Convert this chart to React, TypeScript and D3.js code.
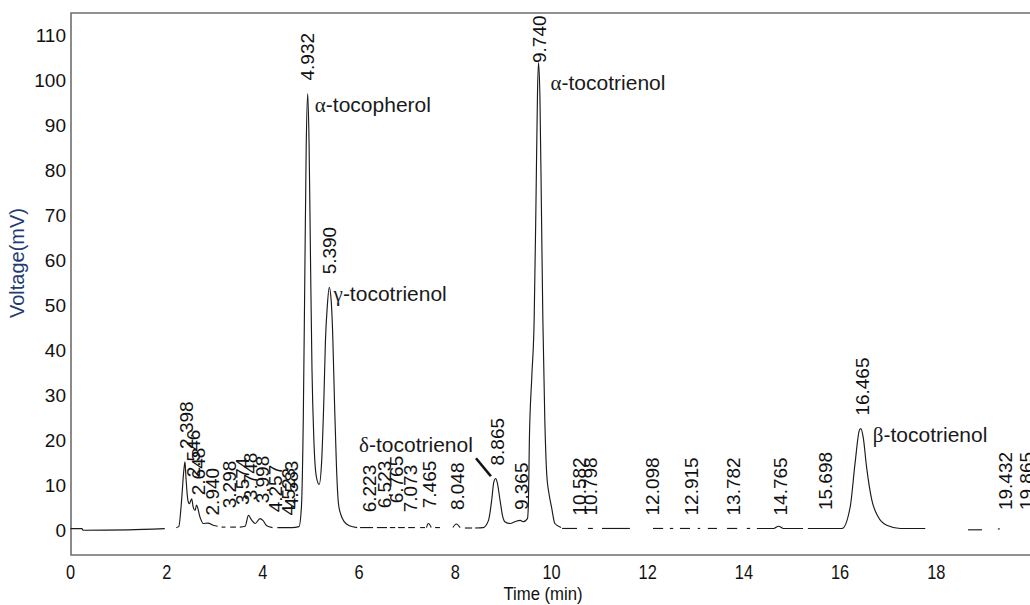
import React from 'react';
import * as d3 from 'd3';

// chromatogram: tocopherol / tocotrienol HPLC run
const xTicks = [0, 2, 4, 6, 8, 10, 12, 14, 16, 18];
const yTicks = [0, 10, 20, 30, 40, 50, 60, 70, 80, 90, 100, 110];

// retention time labels and the level (mV) each label sits on
const peakLabels = [
  '2.398', '2.546', '2.648', '2.940', '3.298', '3.574', '3.748', '3.998', '4.257', '4.523', '4.583',
  '4.932', '5.390', '6.223', '6.523', '6.765', '7.073', '7.465', '8.048', '8.865', '9.365', '9.740',
  '10.582', '10.798', '12.098', '12.915', '13.782', '14.765', '15.698', '16.465', '19.432', '19.865',
];
const peakLabelLevels = [
  15.2, 8.9, 4.9, 0.4, 2.0, 2.7, 3.8, 3.1, 1.1, 0.4, 2.0,
  97.1, 54, 1.1, 2.0, 3.1, 1.1, 2.0, 1.6, 11.5, 1.6, 101,
  0.4, 0.4, 0.4, 0.4, 0.4, 0.4, 1.6, 22.6, 1.6, 1.6,
];

// compound names
const compoundGreek = ['α', 'γ', 'δ', 'α', 'β'];
const compoundNames = ['-tocopherol', '-tocotrienol', '-tocotrienol', '-tocotrienol', '-tocotrienol'];
const compoundTimes = [5.08, 5.47, 6.0, 9.98, 16.68];
const compoundLevels = [92.9, 50.9, 17.3, 97.8, 19.6];
const leader = [[8.43, 16], [8.74, 12]];

// detector trace; the recorder leaves gaps, so it comes in pieces
const traceSegments: number[][][] = [
  [[0, 0.35], [0.24, 0.35], [0.26, 0], [1.2, 0.1], [1.96, 0.35]],
  [[2.2, 0.6], [2.25, 0.8], [2.31, 6.7], [2.35, 12.6], [2.38, 15.2], [2.4, 11.8], [2.44, 6.7], [2.47, 5.9],
    [2.52, 7.0], [2.55, 5.2], [2.59, 4.4], [2.62, 5.6], [2.69, 3.0], [2.76, 1.5], [2.86, 1.6], [2.97, 1.1], [3.06, 0.9]],
  [[3.14, 0.7], [3.22, 0.7]],
  [[3.32, 0.7], [3.44, 0.7]],
  [[3.52, 0.7], [3.63, 0.9], [3.7, 3.3], [3.77, 2.2], [3.84, 1.5], [3.94, 2.6], [4.0, 2.2], [4.08, 1.0], [4.2, 0.6]],
  [[4.3, 0.6], [4.6, 0.6], [4.75, 0.8], [4.8, 5], [4.84, 25], [4.87, 55], [4.9, 85], [4.932, 97.1], [4.96, 86],
    [4.99, 60], [5.02, 36], [5.06, 20], [5.11, 12], [5.17, 10.2], [5.22, 15], [5.27, 30], [5.3, 42], [5.34, 50],
    [5.38, 54], [5.42, 51], [5.45, 44], [5.49, 28], [5.53, 14], [5.57, 6], [5.62, 3.5], [5.7, 1.8], [5.8, 1.0], [5.96, 0.6]],
  [[6.02, 0.6], [6.29, 0.6]],
  [[6.37, 0.6], [6.58, 0.6]],
  [[6.64, 0.6], [6.75, 0.6]],
  [[6.81, 0.6], [6.95, 0.6]],
  [[7.02, 0.6], [7.16, 0.6]],
  [[7.27, 0.6], [7.37, 0.6]],
  [[7.4, 0.6], [7.44, 1.5], [7.5, 0.6]],
  [[7.58, 0.6], [7.68, 0.6]],
  [[7.95, 0.6], [8.02, 1.4], [8.1, 0.6]],
  [[8.2, 0.5], [8.35, 0.5]],
  [[8.41, 0.5], [8.58, 0.6], [8.69, 2.2], [8.76, 7.0], [8.8, 10.7], [8.84, 11.5], [8.87, 10.7], [8.93, 6.7],
    [8.98, 3.3], [9.03, 1.9], [9.14, 1.5], [9.24, 1.9], [9.35, 2.2], [9.41, 1.9], [9.5, 2.6], [9.52, 6],
    [9.54, 20], [9.59, 34], [9.64, 47], [9.68, 75], [9.71, 98], [9.73, 104], [9.76, 96], [9.79, 72], [9.82, 47],
    [9.86, 25], [9.9, 12.6], [9.95, 8], [10.0, 5.2], [10.07, 1.5], [10.2, 0.6]],
  [[10.22, 0.4], [10.53, 0.4]],
  [[10.76, 0.4], [10.86, 0.4]],
  [[11.05, 0.4], [11.63, 0.4]],
  [[12.11, 0.4], [12.32, 0.4]],
  [[12.46, 0.4], [12.53, 0.4]],
  [[12.67, 0.4], [12.88, 0.4]],
  [[13.04, 0.4], [13.09, 0.4]],
  [[13.25, 0.4], [13.44, 0.4]],
  [[13.65, 0.4], [13.86, 0.4]],
  [[14.06, 0.4], [14.13, 0.4]],
  [[14.27, 0.4], [14.62, 0.4], [14.72, 0.9], [14.82, 0.4], [15.23, 0.4]],
  [[15.33, 0.4], [16.04, 0.4], [16.21, 5.2], [16.31, 14.8], [16.4, 22.2], [16.43, 22.6], [16.48, 20.7],
    [16.55, 14.1], [16.66, 6.7], [16.79, 3.0], [16.97, 1.1], [17.25, 0.4], [17.77, 0.4]],
  [[18.66, 0.1], [18.95, 0.1]],
  [[19.28, 0.3], [19.32, 0.3]],
];

const font = '"Liberation Sans", Arial, sans-serif';

const App = () => {
  const width = 1030;
  const height = 605;
  const x = d3.scaleLinear().domain([0, 20]).range([70.5, 1032.5]);
  const y = d3.scaleLinear().domain([-5.5, 115]).range([555, 13]);
  const line = d3.line<number[]>()
    .x(d => x(d[0]))
    .y(d => y(d[1]))
    .curve(d3.curveMonotoneX);

  return (
    <svg width={width} height={height} style={{ position: 'absolute', left: 0, top: 0, background: '#fff' }}
      fontFamily={font}>
      <path d={`M1045,13H71V555H1045`} fill="none" stroke="#6e6e6e" strokeWidth={1.6} />

      {yTicks.map(t => (
        <text key={'y' + t} x={66} y={y(t)} dy="0.35em" textAnchor="end" fontSize={19} fill="#111">{t}</text>
      ))}
      {xTicks.map(t => (
        <text key={'x' + t} transform={`translate(${x(t)},579) scale(0.82,1)`} textAnchor="middle"
          fontSize={20} fill="#111">{t}</text>
      ))}
      <text transform="translate(543,600) scale(0.88,1)" textAnchor="middle" fontSize={19} fill="#111">Time (min)</text>
      <text transform={`translate(24,${263}) rotate(-90)`} textAnchor="middle" fontSize={20} fill="#1f3b73">Voltage(mV)</text>

      {traceSegments.map((seg, i) => (
        <path key={'s' + i} d={line(seg) || ''} fill="none" stroke="#1a1a1a" strokeWidth={1.15} />
      ))}

      {peakLabels.map((lab, i) => (
        <text key={'p' + i}
          transform={`translate(${x(parseFloat(lab))},${y(peakLabelLevels[i]) - 13}) rotate(-90)`}
          dy="0.35em" textAnchor="start" fontSize={19} fill="#111">{lab}</text>
      ))}

      <line x1={x(leader[0][0])} y1={y(leader[0][1])} x2={x(leader[1][0])} y2={y(leader[1][1])}
        stroke="#111" strokeWidth={2.6} />

      {compoundNames.map((nm, i) => (
        <text key={'c' + i} x={x(compoundTimes[i])} y={y(compoundLevels[i])} fontSize={21} fill="#1a1a1a">
          <tspan fontFamily='"Liberation Serif", "DejaVu Serif", serif'>{compoundGreek[i]}</tspan>{nm}
        </text>
      ))}
    </svg>
  );
};

export default App;
